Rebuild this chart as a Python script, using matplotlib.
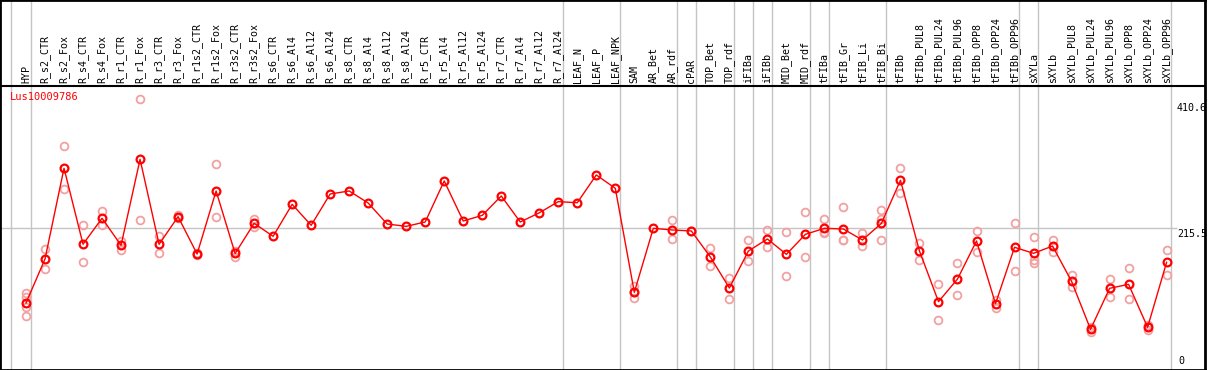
import numpy as np
import matplotlib
matplotlib.use("Agg")
import matplotlib.pyplot as plt

# sample names (top labels)
labels = ["HYP", "R_s2_CTR", "R_s2_Fox", "R_s4_CTR", "R_s4_Fox", "R_r1_CTR", "R_r1_Fox",
          "R_r3_CTR", "R_r3_Fox", "R_r1s2_CTR", "R_r1s2_Fox", "R_r3s2_CTR", "R_r3s2_Fox",
          "R_s6_CTR", "R_s6_Al4", "R_s6_Al12", "R_s6_Al24", "R_s8_CTR", "R_s8_Al4",
          "R_s8_Al12", "R_s8_Al24", "R_r5_CTR", "R_r5_Al4", "R_r5_Al12", "R_r5_Al24",
          "R_r7_CTR", "R_r7_Al4", "R_r7_Al12", "R_r7_Al24", "LEAF_N", "LEAF_P", "LEAF_NPK",
          "SAM", "AR_Bet", "AR_rdf", "cPAR", "TOP_Bet", "TOP_rdf", "iFIBa", "iFIBb",
          "MID_Bet", "MID_rdf", "tFIBa", "tFIB_Gr", "tFIB_Li", "tFIB_Bi", "tFIBb",
          "tFIBb_PUL8", "tFIBb_PUL24", "tFIBb_PUL96", "tFIBb_OPP8", "tFIBb_OPP24", "tFIBb_OPP96",
          "sXYLa", "sXYLb", "sXYLb_PUL8", "sXYLb_PUL24", "sXYLb_PUL96", "sXYLb_OPP8",
          "sXYLb_OPP24", "sXYLb_OPP96"]

# mean expression per sample
means = [94.8, 166, 313, 190, 232, 188.2, 327.5, 189.8, 234.6, 174.1, 276.2, 175.0, 223.8,
         202.8, 254.6, 220.6, 271.3, 276.2, 256.7, 222.7, 218.9, 226.0, 292.4, 227.6, 236.7,
         268.1, 226.0, 240.8, 258.9, 257.2, 302.1, 280.5,
         112.1, 215.7, 213, 211.4, 169.3, 119, 179, 198.4, 173.6, 206, 215.7, 214.6, 196.8,
         223.8, 293.5, 179, 96.9, 133.6, 195.2, 93.6, 185,
         175.2, 187, 129.9, 52.1, 118.5, 125, 55.4, 160.7]

# individual replicates
reps = [[110.5, 105, 88.8, 73.7], [182.2, 149.3], [348.5, 278.9], [220.6, 160.7],
        [243.8, 220.6], [195.2, 181.1], [425.7, 229.2], [203.3, 175.2], [237, 232],
        [176, 172], [319.9, 234], [179.5, 169.8], [230.3, 218.4],
        [], [], [], [], [], [], [], [], [], [], [], [], [], [], [], [], [], [], [],
        [122.8, 112, 103.4], [], [229.2, 197.9], [212], [183.8, 154.7], [135.2, 100.7],
        [196.8, 162.3], [213, 185], [209.7, 138.5], [241.6, 169.3], [230.8, 207.6, 209],
        [249.8, 196.8, 197.5], [208.1, 187], [245.4, 230.8, 196.8], [312.9, 272.4],
        [191.4, 164.4], [125.5, 67.2], [159, 107.7], [211.4, 176.9], [99.6, 87.1],
        [224.3, 146.1], [201.7, 164.4, 159], [196.8, 176.9], [140.1, 120.2], [56.4, 48.3],
        [133.1, 104], [151, 100.7], [59.1, 51], [180.6, 140.1]]

# group boundaries (after these sample indices)
group_ends = [-1.04, 0, 28, 31, 34, 35, 37, 38, 39, 41, 42, 45, 52, 53, 60]
gene = "Lus10009786"
yticks = [410.6, 215.5, 0]

x = np.arange(len(labels))

fig = plt.figure(figsize=(12.09, 3.70), dpi=100)
ax = fig.add_axes([0, 0, 1205 / 1209, 1])

# pixel mapping: x px = 26 + 19.01*i ; y px = 361.5 - 0.6174*v
ax.set_xlim(-26 / 19.01, (1205 - 26) / 19.01)
ax.set_ylim(-8.5 / 0.6174, 361.5 / 0.6174)
ax.set_xticks([])
ax.set_yticks([])
for s in ax.spines.values():
    s.set_color("black")
    s.set_linewidth(2)

gray = "#c4c4c4"
for g in group_ends:
    ax.axvline(g + 0.24, color=gray, lw=1, zorder=1)
label_x = (1177 - 26) / 19.01
ax.hlines(yticks[1], ax.get_xlim()[0], label_x, color=gray, lw=1, zorder=1)

header = (361.5 - 86) / 0.6174
ax.axhline(header, color="black", lw=1.5, zorder=2)

for i, lab in enumerate(labels):
    ax.text(i, header + 5.5, lab, rotation=90, ha="center", va="bottom",
            family="DejaVu Sans Mono", fontsize=7.2, color="black")

ax.text(-0.84, (361.5 - 97) / 0.6174, gene, ha="left", va="center",
        family="DejaVu Sans Mono", fontsize=7.5, color="red")

ax.text(label_x, yticks[0], "410.6", ha="left", va="center",
        family="DejaVu Sans Mono", fontsize=7.2, color="black")
ax.text(label_x, yticks[1] - 1, "215.5", ha="left", va="top",
        family="DejaVu Sans Mono", fontsize=7.2, color="black")
ax.text(label_x + 0.05, yticks[2], "0", ha="left", va="center",
        family="DejaVu Sans Mono", fontsize=7.2, color="black")

# replicates
for i, r in enumerate(reps):
    if r:
        ax.plot([i] * len(r), r, "o", ms=5.6, mfc="none", mec="#f2a0a0", mew=1.3, zorder=3)

ax.plot(x, means, "-", color="red", lw=1, zorder=4)
ax.plot(x, means, "o", ms=5.6, mfc="none", mec="red", mew=1.6, zorder=5)

fig.savefig("out.png", dpi=100)
